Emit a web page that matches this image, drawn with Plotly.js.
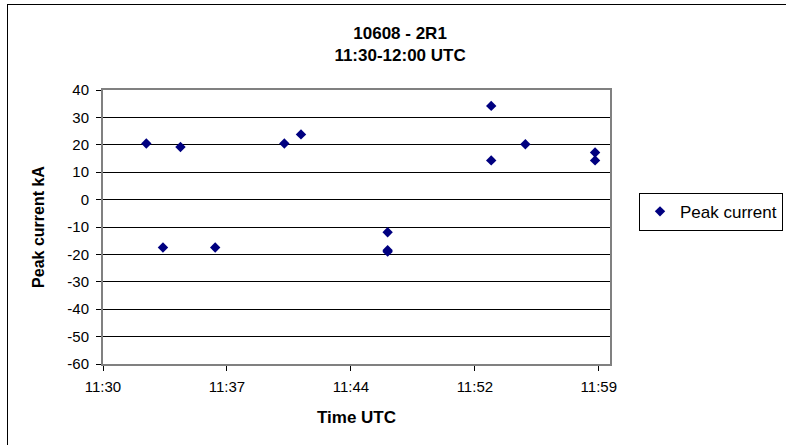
<!DOCTYPE html>
<html>
<head>
<meta charset="utf-8">
<script src="https://cdn.plot.ly/plotly-3.0.1.min.js"></script>
<style>
  html, body { margin: 0; padding: 0; background: #fff; }
  #wrap { position: relative; width: 786px; height: 445px; overflow: hidden; }
  #chart { width: 786px; height: 445px; }
  #frame { position: absolute; left: 7px; top: 4px; width: 800px; height: 460px;
           border: 1.5px solid #000; box-sizing: border-box; pointer-events: none; }
</style>
</head>
<body>
<div id="wrap">
  <div id="chart"></div>
  <div id="frame"></div>
</div>
<script>
// Data
const day = '2004-01-01 ';
const times = ['11:32:31', '11:33:29', '11:34:30', '11:36:31', '11:40:32', '11:41:30',
               '11:46:32', '11:46:32', '11:46:32', '11:52:33', '11:52:33', '11:54:32',
               '11:58:35', '11:58:35'];
const peakCurrent = [20.5, -17.5, 19.2, -17.5, 20.5, 23.8,
                     -11.9, -18.5, -19.0, 34.2, 14.3, 20.2,
                     17.2, 14.3];
const xTickVals = ['11:30:00', '11:37:12', '11:44:24', '11:51:36', '11:58:48'];
const xTickText = ['11:30', '11:37', '11:44', '11:52', '11:59'];
const xRange = ['11:30:00', '11:59:27'];
const yTickVals = [40, 30, 20, 10, 0, -10, -20, -30, -40, -50, -60];
const yTickText = ['40', '30', '20', '10', '0', '-10', '-20', '-30', '-40', '-50', '-60'];

const font = '"Liberation Sans", Arial, sans-serif';

const trace = {
  type: 'scatter',
  mode: 'markers',
  name: 'Peak current',
  x: times.map(t => day + t),
  y: peakCurrent,
  marker: { symbol: 'diamond', size: 8, color: '#000080' }
};

const layout = {
  width: 786, height: 445,
  margin: { l: 103, r: 176, t: 90, b: 81, autoexpand: false },
  paper_bgcolor: '#fff', plot_bgcolor: '#fff',
  font: { family: font, size: 15, color: '#000' },
  title: {
    text: '<b>10608 - 2R1</b><br><b>11:30-12:00 UTC</b>',
    font: { family: font, size: 17, color: '#000' },
    xref: 'container', x: 0.509, xanchor: 'center',
    yref: 'container', y: 0.912, yanchor: 'middle'
  },
  showlegend: true,
  legend: {
    xref: 'container', x: 0.813, xanchor: 'left',
    yref: 'container', y: 0.524, yanchor: 'middle',
    bgcolor: '#fff', bordercolor: '#000', borderwidth: 1,
    font: { family: font, size: 17, color: '#000' },
    itemwidth: 30
  },
  xaxis: {
    type: 'date',
    automargin: false,
    range: xRange.map(t => day + t),
    tickmode: 'array',
    tickvals: xTickVals.map(t => day + t),
    ticktext: xTickText,
    ticks: 'outside', ticklen: 5, tickcolor: '#000', tickwidth: 1,
    ticklabelstandoff: 3,
    showgrid: false, zeroline: false,
    showline: true, linecolor: '#808080', linewidth: 2, mirror: true,
    tickfont: { family: font, size: 15, color: '#000' },
    title: { text: '<b>Time UTC</b>', font: { family: font, size: 17, color: '#000' }, standoff: 17 }
  },
  yaxis: {
    automargin: false,
    range: [-60, 40],
    tickmode: 'array',
    tickvals: yTickVals,
    ticktext: yTickText,
    ticks: 'outside', ticklen: 5, tickcolor: '#000', tickwidth: 1,
    ticklabelstandoff: 4,
    showgrid: true, gridcolor: '#000', gridwidth: 1,
    zeroline: false,
    showline: true, linecolor: '#808080', linewidth: 2, mirror: true,
    tickfont: { family: font, size: 15, color: '#000' },
    title: { text: '<b>Peak current kA</b>', font: { family: font, size: 16, color: '#000' }, standoff: 19 }
  }
};

Plotly.newPlot('chart', [trace], layout, { displayModeBar: false, staticPlot: true });
</script>
</body>
</html>
